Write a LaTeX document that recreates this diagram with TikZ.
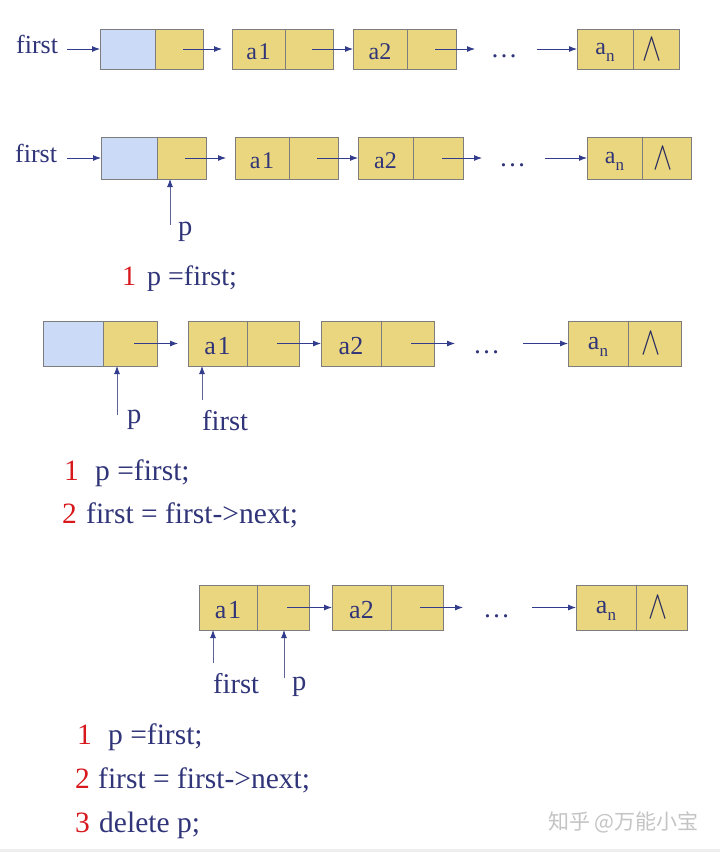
\documentclass[tikz,border=0pt]{standalone}
\usepackage{fontspec}
\usepackage{graphicx}
\setmainfont{Liberation Serif}[Ligatures=NoCommon]
\newfontfamily\cjkfont{Noto Sans CJK SC}
\usetikzlibrary{arrows.meta}
\definecolor{navy}{RGB}{48,52,120}
\definecolor{arrowc}{RGB}{50,60,140}
\definecolor{ptrc}{RGB}{95,100,150}
\definecolor{cellyellow}{RGB}{234,214,126}
\definecolor{cellblue}{RGB}{202,218,247}
\definecolor{cellline}{RGB}{125,125,125}
\definecolor{codered}{RGB}{215,25,30}
\definecolor{wmgray}{RGB}{196,196,196}
\definecolor{stripgray}{RGB}{238,238,238}
\newcommand\subn{a\raisebox{-0.28em}[0pt][0pt]{\fontsize{17}{17}\selectfont n}}
\newcommand\nullglyph{\scalebox{1.15}[1.6]{$\wedge$}}
\begin{document}
\begin{tikzpicture}[x=1pt,y=-1pt,
  ycell/.style={draw=cellline,fill=cellyellow,line width=0.9pt,inner sep=0pt,outer sep=0pt,text=navy},
  bcell/.style={ycell,fill=cellblue},
  fa/.style={font=\fontsize{24}{28}\selectfont},
  fb/.style={font=\fontsize{26}{30}\selectfont},
  dgA/.style={text height=21pt},
  dgB/.style={text height=22.5pt},
  hA/.style={minimum height=40pt},
  hB/.style={minimum height=42pt},
  hC/.style={minimum height=45pt},
  nullsym/.style={inner sep=0pt,text=navy!80!black,font=\fontsize{26}{30}\selectfont},
  dotsn/.style={inner sep=0pt,anchor=base,text=navy,font=\fontsize{27}{30}\selectfont},
  arr/.style={draw=arrowc,line width=0.9pt,-{Latex[length=8pt,width=6pt,color=arrowc]}},
  parr/.style={draw=ptrc,line width=0.9pt,-{Latex[length=8pt,width=6pt,color=arrowc]}},
  lbl/.style={inner sep=0pt,anchor=base west,text=navy},
  lblA/.style={lbl,font=\fontsize{26}{30}\selectfont},
  lblB/.style={lbl,font=\fontsize{28.5}{32}\selectfont},
  codeA/.style={lbl,font=\fontsize{28}{32}\selectfont},
  codeB/.style={lbl,font=\fontsize{29.5}{34}\selectfont},
  numA/.style={codeA,text=codered},
  numB/.style={codeB,text=codered},
  wm/.style={inner sep=0pt,anchor=base west,text=wmgray,font=\fontsize{21}{24}\cjkfont}
]
\useasboundingbox (0,0) rectangle (720,852);
\fill[white] (0,0) rectangle (720,852);
\fill[stripgray] (0,849) rectangle (720,852);

% ---------------- Row 1 ----------------
\node[lblA] (r1first) at (16,53) {first};
\node[bcell,hA,minimum width=55pt] (r1hb) at (127.5,49) {};
\node[ycell,hA,minimum width=48pt] (r1hy) at (179,49) {};
\node[ycell,hA,fa,dgA,minimum width=53pt] (r1a1) at (258.5,49) {a\kern1.5pt{}1};
\node[ycell,hA,minimum width=48pt] (r1a1n) at (309,49) {};
\node[ycell,hA,fa,dgA,minimum width=54pt] (r1a2) at (380,49) {a2};
\node[ycell,hA,minimum width=49pt] (r1a2n) at (431.5,49) {};
\node[dotsn] (r1dots) at (504,57) {\ldots};
\node[ycell,hA,fa,minimum width=56pt] (r1an) at (605,49) {\subn};
\node[ycell,hA,minimum width=46pt] (r1ann) at (656,49) {};
\node[nullsym] (r1null) at ([xshift=-3.5pt]r1ann.center) {\nullglyph};
\coordinate (r1s) at (67,49);
\coordinate (r1d1) at (475,49);
\coordinate (r1d2) at (537,49);
\draw[arr] (r1s) -- (r1hb.west);
\draw[arr] ([xshift=4pt]r1hy.center) -- ([xshift=-10pt]r1a1.west);
\draw[arr] ([xshift=3pt]r1a1n.center) -- (r1a2.west);
\draw[arr] ([xshift=3.5pt]r1a2n.center) -- (r1d1);
\draw[arr] (r1d2) -- (r1an.west);

% ---------------- Row 2 ----------------
\node[lblA] (r2first) at (15,162) {first};
\node[bcell,hB,minimum width=56pt] (r2hb) at (129,158) {};
\node[ycell,hB,minimum width=49pt] (r2hy) at (181.5,158) {};
\node[ycell,hB,fa,dgA,minimum width=54pt] (r2a1) at (262,158) {a\kern1.5pt{}1};
\node[ycell,hB,minimum width=49pt] (r2a1n) at (313.5,158) {};
\node[ycell,hB,fa,dgA,minimum width=55pt] (r2a2) at (385.5,158) {a2};
\node[ycell,hB,minimum width=50pt] (r2a2n) at (438,158) {};
\node[dotsn] (r2dots) at (512.5,166) {\ldots};
\node[ycell,hB,fa,minimum width=55pt] (r2an) at (614.5,158) {\subn};
\node[ycell,hB,minimum width=49pt] (r2ann) at (666.5,158) {};
\node[nullsym] (r2null) at ([xshift=-3.5pt]r2ann.center) {\nullglyph};
\coordinate (r2s) at (67,158);
\coordinate (r2d1) at (482,158);
\coordinate (r2d2) at (545,158);
\draw[arr] (r2s) -- (r2hb.west);
\draw[arr] ([xshift=3.5pt]r2hy.center) -- ([xshift=-9pt]r2a1.west);
\draw[arr] ([xshift=3.5pt]r2a1n.center) -- (r2a2.west);
\draw[arr] ([xshift=4pt]r2a2n.center) -- (r2d1);
\draw[arr] (r2d2) -- (r2an.west);
\coordinate (r2ps) at (170,225);
\draw[parr] (r2ps) -- (r2ps |- r2hy.south);
\node[lblB] (r2p) at (178,235) {p};
\node[numA] (r2c1n) at (122,285) {1};
\node[codeA] (r2c1) at (147,285) {p =first;};

% ---------------- Row 3 ----------------
\node[bcell,hC,minimum width=60pt] (r3hb) at (73,343.5) {};
\node[ycell,hC,minimum width=54pt] (r3hy) at (130,343.5) {};
\node[ycell,hC,fb,dgB,minimum width=59pt] (r3a1) at (217.5,343.5) {a\kern1.5pt{}1};
\node[ycell,hC,minimum width=52pt] (r3a1n) at (273,343.5) {};
\node[ycell,hC,fb,dgB,minimum width=60pt] (r3a2) at (351,343.5) {a2};
\node[ycell,hC,minimum width=53pt] (r3a2n) at (407.5,343.5) {};
\node[dotsn] (r3dots) at (486.5,353.5) {\ldots};
\node[ycell,hC,fb,minimum width=60pt] (r3an) at (598,343.5) {\subn};
\node[ycell,hC,minimum width=53pt] (r3ann) at (654.5,343.5) {};
\node[nullsym] (r3null) at ([xshift=-3.5pt]r3ann.center) {\nullglyph};
\coordinate (r3d1) at (455,343.5);
\coordinate (r3d2) at (523,343.5);
\draw[arr] ([xshift=4pt]r3hy.center) -- ([xshift=-10pt]r3a1.west);
\draw[arr] ([xshift=4pt]r3a1n.center) -- (r3a2.west);
\draw[arr] ([xshift=3.5pt]r3a2n.center) -- (r3d1);
\draw[arr] (r3d2) -- (r3an.west);
\coordinate (r3ps) at (117,415);
\draw[parr] (r3ps) -- (r3ps |- r3hy.south);
\node[lblB] (r3p) at (127,423) {p};
\coordinate (r3fs) at (202,400);
\draw[parr] (r3fs) -- (r3fs |- r3a1.south);
\node[lblB] (r3first) at (202,430) {first};
\node[numB] (r3c1n) at (64,480) {1};
\node[codeB] (r3c1) at (95,480) {p =first;};
\node[numB] (r3c2n) at (62,523) {2};
\node[codeB] (r3c2) at (86,523) {first = first->next;};

% ---------------- Row 4 ----------------
\node[ycell,hC,fb,dgB,minimum width=58pt] (r4a1) at (228,607.5) {a\kern1.5pt{}1};
\node[ycell,hC,minimum width=52pt] (r4a1n) at (283,607.5) {};
\node[ycell,hC,fb,dgB,minimum width=59pt] (r4a2) at (361.5,607.5) {a2};
\node[ycell,hC,minimum width=52pt] (r4a2n) at (417,607.5) {};
\node[dotsn] (r4dots) at (496.5,617) {\ldots};
\node[ycell,hC,fb,minimum width=60pt] (r4an) at (606,607.5) {\subn};
\node[ycell,hC,minimum width=51pt] (r4ann) at (661.5,607.5) {};
\node[nullsym] (r4null) at ([xshift=-3.5pt]r4ann.center) {\nullglyph};
\coordinate (r4d1) at (463,607.5);
\coordinate (r4d2) at (532,607.5);
\draw[arr] ([xshift=4pt]r4a1n.center) -- (r4a2.west);
\draw[arr] ([xshift=3pt]r4a2n.center) -- (r4d1);
\draw[arr] (r4d2) -- (r4an.west);
\coordinate (r4fs) at (213,663);
\draw[parr] (r4fs) -- (r4fs |- r4a1.south);
\node[lblB] (r4first) at (213,693) {first};
\coordinate (r4ps) at (284,678);
\draw[parr] (r4ps) -- (r4ps |- r4a1n.south);
\node[lblB] (r4p) at (292,690) {p};
\node[numB] (r4c1n) at (77,744) {1};
\node[codeB] (r4c1) at (108,744) {p =first;};
\node[numB] (r4c2n) at (75,788) {2};
\node[codeB] (r4c2) at (98,788) {first = first->next;};
\node[numB] (r4c3n) at (75,832) {3};
\node[codeB] (r4c3) at (99,832) {delete p;};

\node[wm] (wmark) at (548,829) {知乎 @万能小宝};
\end{tikzpicture}
\end{document}
